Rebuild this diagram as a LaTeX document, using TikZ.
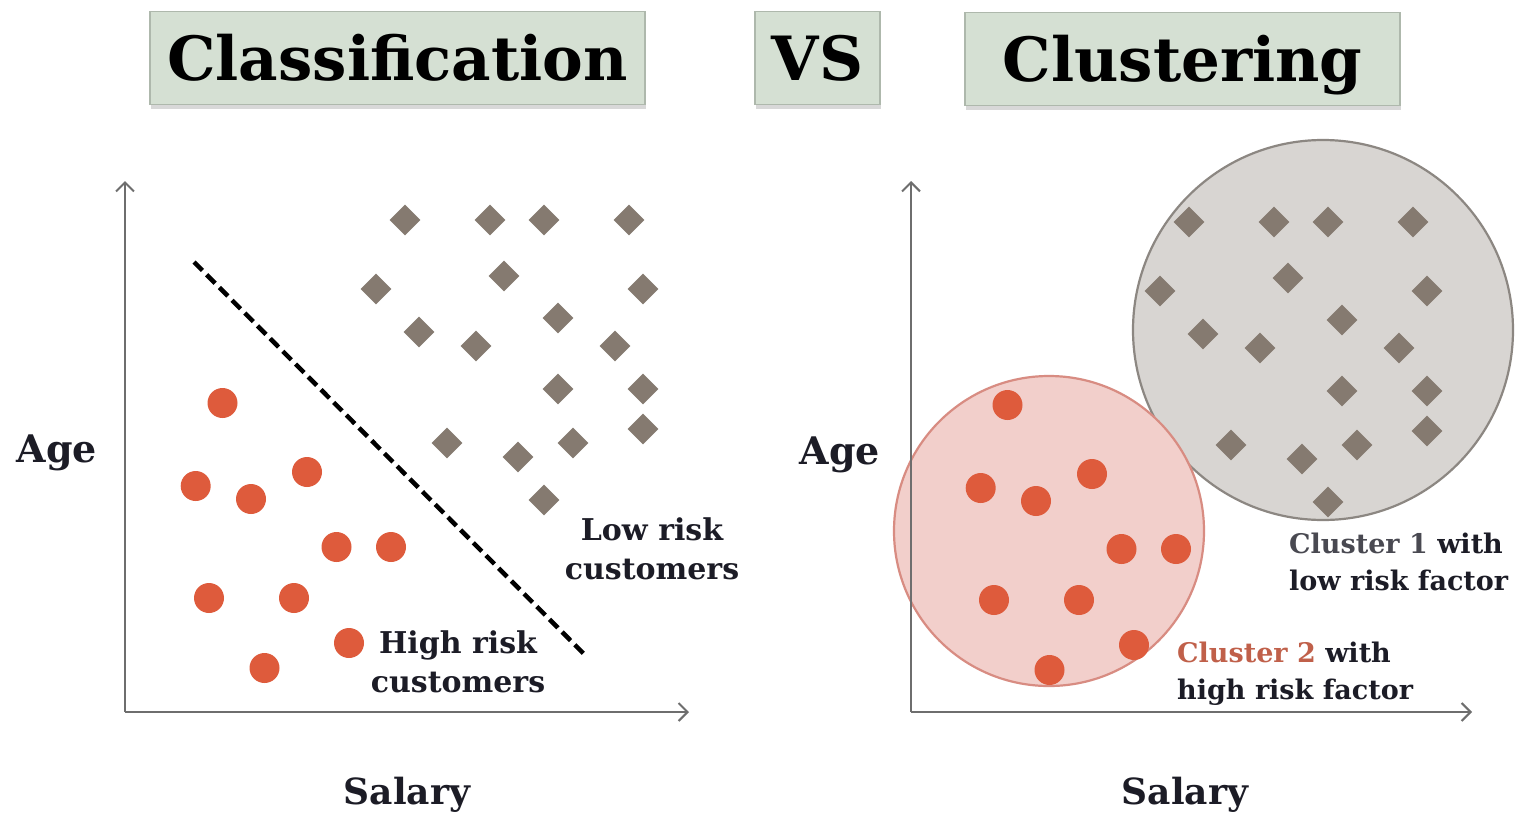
\documentclass[tikz,border=0pt]{standalone}
\usepackage{fontspec}
\setmainfont{DejaVu Serif}
\usetikzlibrary{shapes.geometric,arrows.meta,shadows}
\definecolor{titlefill}{HTML}{D5E0D3}
\definecolor{titledraw}{HTML}{AEB8AC}
\definecolor{axiscol}{HTML}{6E6E6E}
\definecolor{dotcol}{HTML}{DE5B3C}
\definecolor{diacol}{HTML}{857A70}
\definecolor{txtcol}{HTML}{1C1C26}
\definecolor{grayfill}{HTML}{D8D5D2}
\definecolor{graydraw}{HTML}{8C8782}
\definecolor{pinkfill}{HTML}{F2CFCB}
\definecolor{pinkdraw}{HTML}{D88C82}
\definecolor{c2col}{HTML}{C0604A}
\tikzset{
  titlebox/.style={draw=titledraw, line width=1.2pt, fill=titlefill, inner sep=0pt,
    minimum height=93pt, text height=52pt, text depth=8pt,
    font=\fontsize{61}{61}\selectfont\bfseries, text=black,
    drop shadow={shadow xshift=1pt, shadow yshift=-4pt, opacity=0.3}},
  axisline/.style={axiscol, line width=2.4pt, -{Straight Barb[length=9pt,width=18pt,line width=2pt]}},
  dot/.style={circle, fill=dotcol, inner sep=0pt, minimum size=30pt},
  dia/.style={diamond, fill=diacol, inner sep=0pt, minimum width=31pt, minimum height=31pt},
  lbl/.style={text=txtcol, font=\fontsize{30}{39}\selectfont\bfseries, align=center, inner sep=0pt},
  clbl/.style={text=txtcol, font=\fontsize{27}{37}\selectfont\bfseries, align=left, inner sep=0pt},
  axlbl/.style={text=txtcol, font=\fontsize{38}{38}\selectfont\bfseries, inner sep=0pt},
  cluster/.style={circle, inner sep=0pt, line width=2.2pt},
}
\begin{document}
\begin{tikzpicture}[x=1pt,y=-1pt]
\useasboundingbox[fill=white] (0,0) rectangle (1537,812);

% titles
\node[titlebox, minimum width=495pt] (tclass) at (397.5,58) {Classification};
\node[titlebox, minimum width=125pt] (tvs) at (817.5,58) {VS};
\node[titlebox, minimum width=435pt] (tclust) at (1182.5,59) {Clustering};

% ---------- left plot ----------
\coordinate (lo) at (125,712);
\coordinate (ly) at (125,181);
\coordinate (lx) at (689,712);
\draw[axisline] (lo) -- (ly);
\draw[axisline] (lo) -- (lx);

\coordinate (ds) at (194,262);
\coordinate (de) at (584,654);
\draw[black, line width=4.5pt, dash pattern=on 12pt off 6pt] (ds) -- (de);

\foreach \x/\y [count=\i] in {405/220,490/220,544/220,629/220,376/289,504/276,643/289,419/332,476/346,558/318,615/346,558/389,643/389,447/443,518/457,573/443,643/429,544/500}
  \node[dia] (ld\i) at (\x,\y) {};
\foreach \x/\y [count=\i] in {222.5/403,195.7/486,251/499,307/472,336.5/547,391/547,209/598,294/598,349/643,264.5/668}
  \node[dot] (lc\i) at (\x,\y) {};

\node[lbl] (lowrisk) at (652,549) {Low risk\\customers};
\node[lbl] (highrisk) at (458,662) {High risk\\customers};
\node[axlbl] (lage) at (57,453) {Age};
\node[axlbl, anchor=base, font=\fontsize{36}{36}\selectfont\bfseries] (lsal) at (407,804) {Salary};

% ---------- right plot ----------
\node[cluster, fill=grayfill, draw=graydraw, minimum size=380pt] (gclust) at (1323,330) {};
\node[cluster, fill=pinkfill, draw=pinkdraw, minimum size=310pt] (pclust) at (1049,531) {};

\coordinate (ro) at (911,712);
\coordinate (ry) at (911,181);
\coordinate (rx) at (1472,712);
\draw[axisline] (ro) -- (ry);
\draw[axisline] (ro) -- (rx);

\foreach \x/\y [count=\i] in {405/220,490/220,544/220,629/220,376/289,504/276,643/289,419/332,476/346,558/318,615/346,558/389,643/389,447/443,518/457,573/443,643/429,544/500}
  \node[dia] (rd\i) at (\x+784,\y+2) {};
\foreach \x/\y [count=\i] in {222.5/403,195.7/486,251/499,307/472,336.5/547,391/547,209/598,294/598,349/643,264.5/668}
  \node[dot] (rc\i) at (\x+785,\y+2) {};

\node[clbl, anchor=west] (c1lbl) at (1289,562) {\textcolor{txtcol!80!white}{Cluster 1} with\\low risk factor};
\node[clbl, anchor=west] (c2lbl) at (1177,674) {\textcolor{c2col}{Cluster 2} with\\high risk factor};
\node[axlbl] (rage) at (840,455) {Age};
\node[axlbl, anchor=base, font=\fontsize{36}{36}\selectfont\bfseries] (rsal) at (1185,804) {Salary};
\end{tikzpicture}
\end{document}
